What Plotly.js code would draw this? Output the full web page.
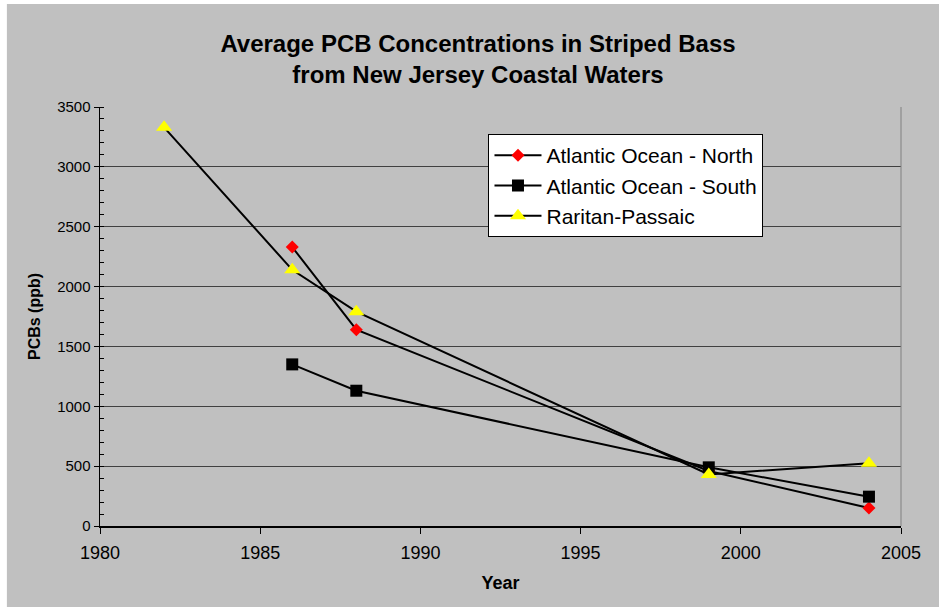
<!DOCTYPE html>
<html>
<head>
<meta charset="utf-8">
<script src="https://cdn.plot.ly/plotly-3.0.1.min.js"></script>
<style>html,body{margin:0;padding:0;background:#fff;}#chart{width:939px;height:607px;}</style>
</head>
<body>
<div id="chart"></div>
<script>
// Data
var northYears = [1986, 1988, 1999, 2004];
var northPCB = [2330, 1640, 460, 150];
var southYears = [1986, 1988, 1999, 2004];
var southPCB = [1350, 1130, 490, 245];
var raritanYears = [1982, 1986, 1988, 1999, 2004];
var raritanPCB = [3330, 2140, 1790, 430, 525];
var seriesNames = ["Atlantic Ocean - North", "Atlantic Ocean - South", "Raritan-Passaic"];
var xTickVals = [1980, 1985, 1990, 1995, 2000, 2005];
var yTickVals = [0, 500, 1000, 1500, 2000, 2500, 3000, 3500];

var FONT = "Liberation Sans, Arial, sans-serif";

var traces = [
  {x: northYears, y: northPCB, name: seriesNames[0], type: "scatter", mode: "lines+markers",
   legendgroup: "a",
   line: {color: "#000000", width: 2},
   marker: {symbol: "diamond", size: 10, color: "#FF0000", line: {width: 0}}},
  {x: southYears, y: southPCB, name: seriesNames[1], type: "scatter", mode: "lines+markers",
   legendgroup: "b",
   line: {color: "#000000", width: 2},
   marker: {symbol: "square", size: 12, color: "#000000", line: {width: 0}}},
  {x: raritanYears, y: raritanPCB, name: seriesNames[2], type: "scatter", mode: "lines+markers",
   legendgroup: "c",
   line: {color: "#000000", width: 2},
   marker: {symbol: "triangle-up", size: 14, color: "#FFFF00", line: {width: 0}}}
];

var layout = {
  width: 939, height: 607,
  margin: {l: 100, r: 38, t: 107, b: 81},
  paper_bgcolor: "#C0C0C0",
  plot_bgcolor: "#C0C0C0",
  showlegend: true,
  font: {family: FONT, color: "#000000"},
  title: {
    text: "<b>Average PCB Concentrations in Striped Bass<br>from New Jersey Coastal Waters</b>",
    font: {family: FONT, size: 24, color: "#000000"},
    x: 478/939, xanchor: "center", xref: "container",
    y: 1 - 51.5/607, yanchor: "middle", yref: "container"
  },
  xaxis: {
    range: [1980, 2005],
    tickmode: "array", tickvals: xTickVals,
    ticks: "outside", ticklen: 6, tickwidth: 1, tickcolor: "#000000",
    ticklabelstandoff: 4,
    showline: true, linecolor: "#000000", linewidth: 1.5,
    showgrid: false, zeroline: false,
    tickfont: {family: FONT, size: 18, color: "#000000"},
    title: {text: "<b>Year</b>", font: {family: FONT, size: 18, color: "#000000"}, standoff: 14}
  },
  yaxis: {
    range: [0, 3500],
    tickmode: "array", tickvals: yTickVals,
    ticks: "outside", ticklen: 5, tickwidth: 1, tickcolor: "#000000",
    minor: {dtick: 100, ticks: "inside", ticklen: 4, tickcolor: "#000000", showgrid: false},
    showline: true, linecolor: "#000000", linewidth: 1.5,
    showgrid: true, gridcolor: "#404040", gridwidth: 1,
    zeroline: false,
    tickfont: {family: FONT, size: 15, color: "#000000"},
    title: {text: "<b>PCBs (ppb)</b>", font: {family: FONT, size: 16, color: "#000000"}, standoff: 12}
  },
  legend: {
    x: (488 - 100) / 800, y: (526 - 134) / 419,
    xanchor: "left", yanchor: "top",
    bgcolor: "#FFFFFF", bordercolor: "#000000", borderwidth: 1,
    font: {family: FONT, size: 21, color: "#000000"},
    traceorder: "grouped", tracegroupgap: 0,
    itemwidth: 47,
    entrywidth: 272
  },
  shapes: [
    {type: "line", xref: "paper", yref: "paper", x0: 1, x1: 1, y0: 0, y1: 1,
     line: {color: "#808080", width: 1}},
    {type: "rect", xref: "paper", yref: "paper", x0: -100/800, x1: -93/800, y0: -1, y1: 2,
     fillcolor: "#FFFFFF", line: {width: 0}, layer: "above"},
    {type: "rect", xref: "paper", yref: "paper", x0: -1, x1: 2, y0: 522/419, y1: 2,
     fillcolor: "#FFFFFF", line: {width: 0}, layer: "above"}
  ]
};

Plotly.newPlot("chart", traces, layout, {displayModeBar: false, staticPlot: true});
</script>
</body>
</html>
